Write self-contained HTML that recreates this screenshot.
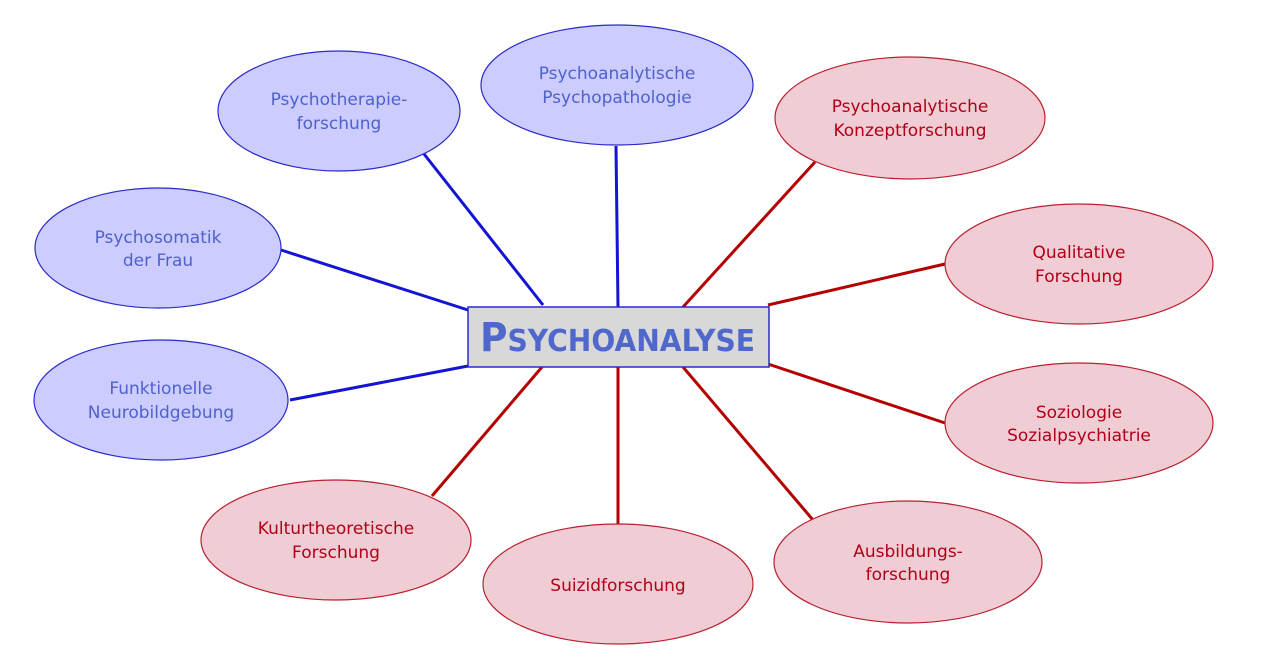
<!DOCTYPE html>
<html><head><meta charset="utf-8"><style>
html,body{margin:0;padding:0;background:#fff;}
svg{display:block}
text{font-family:"DejaVu Sans","Liberation Sans",sans-serif;font-size:17px;text-anchor:middle}
.b{fill:#ccccfe;stroke:#2a2ac8;stroke-width:1.2}
.r{fill:#f0ccd4;stroke:#b82030;stroke-width:1.2}
.bt{fill:#4f62cc}
.rt{fill:#b00018}
</style></head><body>
<svg width="1280" height="661" viewBox="0 0 1280 661">
<g stroke="#1414d4" stroke-width="3">
<line x1="424" y1="154" x2="543" y2="305"/>
<line x1="616" y1="146" x2="618" y2="307"/>
<line x1="281" y1="250" x2="468" y2="310"/>
<line x1="290" y1="400" x2="468" y2="366"/>
</g>
<g stroke="#b40000" stroke-width="3">
<line x1="815" y1="162" x2="683" y2="307"/>
<line x1="945" y1="264" x2="768" y2="305"/>
<line x1="945" y1="423" x2="768" y2="364"/>
<line x1="432" y1="496" x2="542" y2="367"/>
<line x1="618" y1="525" x2="618" y2="367"/>
<line x1="813" y1="520" x2="683" y2="367"/>
</g>
<ellipse class="b" cx="339" cy="111" rx="121" ry="60"/>
<text class="bt" x="339" y="105">Psychotherapie-</text><text class="bt" x="339" y="129">forschung</text>
<ellipse class="b" cx="617" cy="85" rx="136" ry="60"/>
<text class="bt" x="617" y="79">Psychoanalytische</text><text class="bt" x="617" y="103">Psychopathologie</text>
<ellipse class="r" cx="910" cy="118" rx="135" ry="61"/>
<text class="rt" x="910" y="112">Psychoanalytische</text><text class="rt" x="910" y="136">Konzeptforschung</text>
<ellipse class="b" cx="158" cy="248" rx="123" ry="60"/>
<text class="bt" x="158" y="243">Psychosomatik</text><text class="bt" x="158" y="266">der Frau</text>
<ellipse class="r" cx="1079" cy="264" rx="134" ry="60"/>
<text class="rt" x="1079" y="258">Qualitative</text><text class="rt" x="1079" y="282">Forschung</text>
<ellipse class="b" cx="161" cy="400" rx="127" ry="60"/>
<text class="bt" x="161" y="394">Funktionelle</text><text class="bt" x="161" y="418">Neurobildgebung</text>
<ellipse class="r" cx="1079" cy="423" rx="134" ry="60"/>
<text class="rt" x="1079" y="418">Soziologie</text><text class="rt" x="1079" y="441">Sozialpsychiatrie</text>
<ellipse class="r" cx="336" cy="540" rx="135" ry="60"/>
<text class="rt" x="336" y="534">Kulturtheoretische</text><text class="rt" x="336" y="558">Forschung</text>
<ellipse class="r" cx="618" cy="584" rx="135" ry="60"/>
<text class="rt" x="618" y="591">Suizidforschung</text>
<ellipse class="r" cx="908" cy="562" rx="134" ry="61"/>
<text class="rt" x="908" y="557">Ausbildungs-</text><text class="rt" x="908" y="580">forschung</text>
<rect x="468" y="307" width="301" height="60" fill="#d8d8d8" stroke="#2a2ac8" stroke-width="1.5"/>
<text x="480" y="351" textLength="275" lengthAdjust="spacingAndGlyphs" style="text-anchor:start;font-size:40px;font-weight:bold;fill:#5068cc">P<tspan style="font-size:30px">SYCHOANALYSE</tspan></text>
</svg>
</body></html>
